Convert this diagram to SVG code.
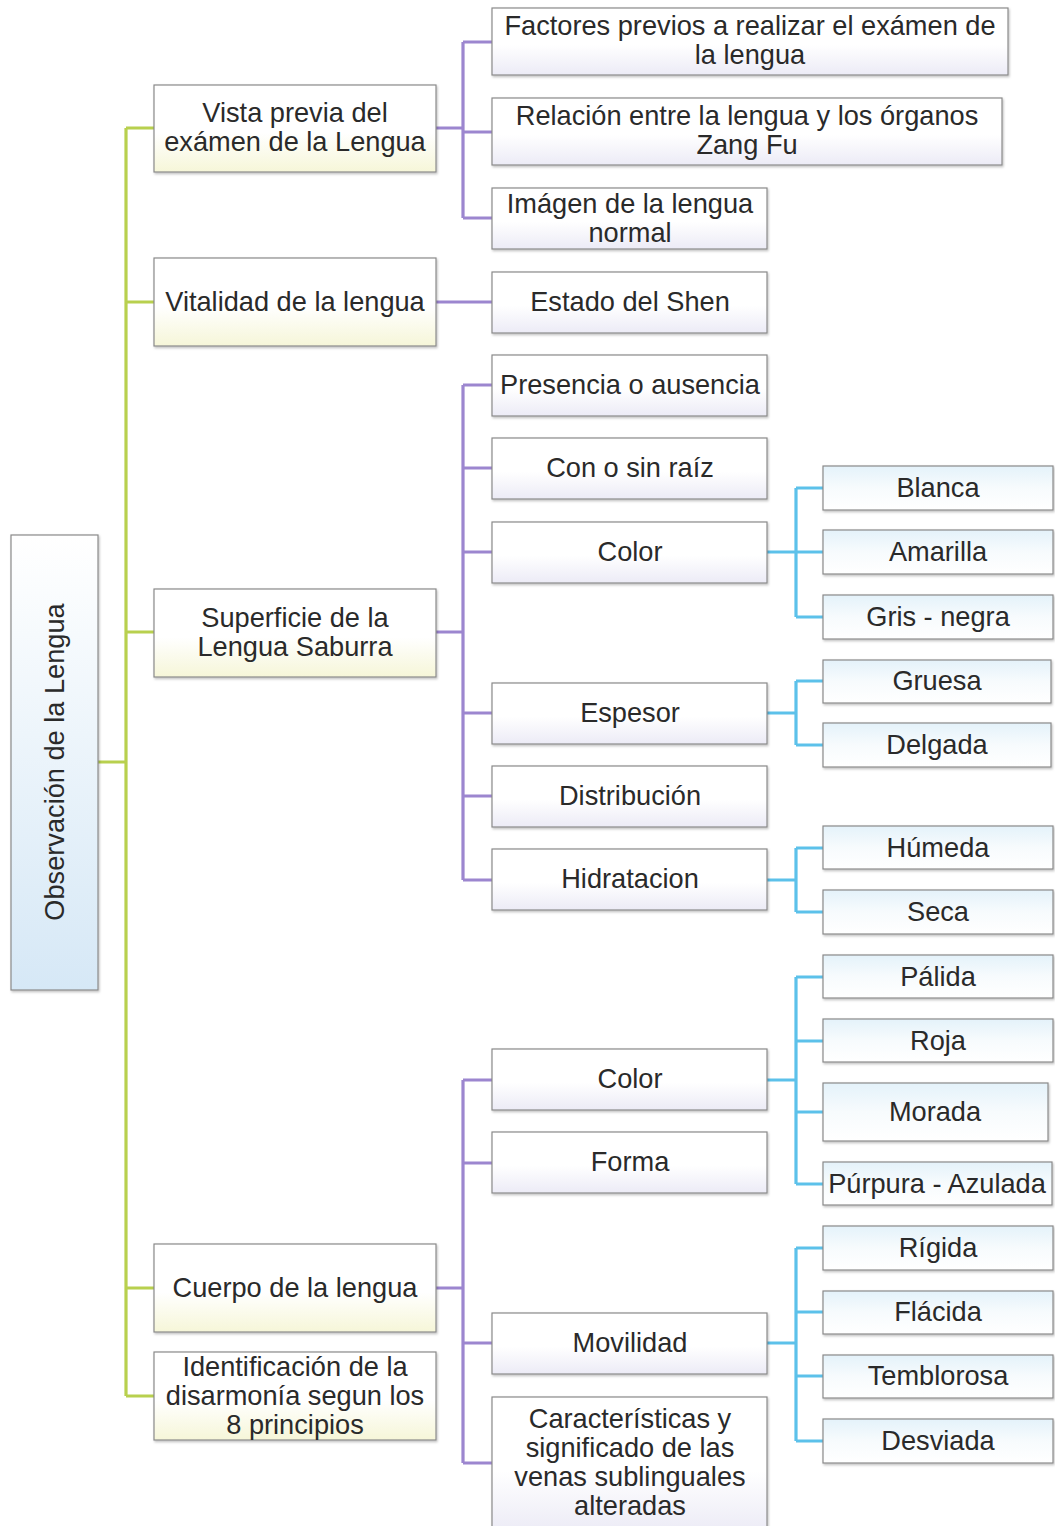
<svg xmlns="http://www.w3.org/2000/svg" width="1055" height="1526" viewBox="0 0 1055 1526">
<defs>
<linearGradient id="gRoot" x1="0" y1="0" x2="0" y2="1"><stop offset="0" stop-color="#ffffff"/><stop offset="1" stop-color="#d6e8f6"/></linearGradient>
<linearGradient id="gL1" x1="0" y1="0" x2="0" y2="1"><stop offset="0" stop-color="#ffffff"/><stop offset="0.55" stop-color="#ffffff"/><stop offset="1" stop-color="#f6f6d8"/></linearGradient>
<linearGradient id="gL2" x1="0" y1="0" x2="0" y2="1"><stop offset="0" stop-color="#ffffff"/><stop offset="0.55" stop-color="#ffffff"/><stop offset="1" stop-color="#ecebf6"/></linearGradient>
<linearGradient id="gL3" x1="0" y1="0" x2="0" y2="1"><stop offset="0" stop-color="#e4f2fa"/><stop offset="0.5" stop-color="#f7fbfd"/><stop offset="1" stop-color="#ffffff"/></linearGradient>
<filter id="sh" x="-5%" y="-5%" width="110%" height="120%"><feDropShadow dx="1" dy="1.5" stdDeviation="0.8" flood-color="#000" flood-opacity="0.25"/></filter>
</defs>
<style>
.root rect{fill:url(#gRoot);stroke:#8a8a8a;stroke-width:1.2;filter:url(#sh)}
.l1 rect{fill:url(#gL1);stroke:#8a8a8a;stroke-width:1.2;filter:url(#sh)}
.l2 rect{fill:url(#gL2);stroke:#8a8a8a;stroke-width:1.2;filter:url(#sh)}
.l3 rect{fill:url(#gL3);stroke:#8a8a8a;stroke-width:1.2;filter:url(#sh)}
text{font-family:"Liberation Sans",Arial,sans-serif;font-size:27.2px;fill:#2a2a2a;text-anchor:middle}
.g{stroke:#b8d04e;stroke-width:3.2;fill:none}
.p{stroke:#9c86cf;stroke-width:3.2;fill:none}
.b{stroke:#5cc1ea;stroke-width:3.2;fill:none}
</style>
<g id="connectors">
<path class="g" d="M98 762H126M126 128V1396M126 128H154M126 302H154M126 632H154M126 1288H154M126 1396H154"/>
<path class="p" d="M436 128H463M463 42V218M463 42H492M463 132H492M463 218H492"/>
<path class="p" d="M436 302H492"/>
<path class="p" d="M436 632H463M463 385V880M463 385H492M463 468H492M463 552H492M463 713H492M463 796H492M463 880H492"/>
<path class="p" d="M436 1288H463M463 1080V1463M463 1080H492M463 1163H492M463 1343H492M463 1463H492"/>
<path class="b" d="M767 552H796M796 488V617M796 488H823M796 552H823M796 617H823"/>
<path class="b" d="M767 713H796M796 681V745M796 681H823M796 745H823"/>
<path class="b" d="M767 880H796M796 848V912M796 848H823M796 912H823"/>
<path class="b" d="M767 1080H796M796 977V1184M796 977H823M796 1041H823M796 1112H823M796 1184H823"/>
<path class="b" d="M767 1343H796M796 1248V1441M796 1248H823M796 1312H823M796 1376H823M796 1441H823"/>
</g>
<g id="root" class="root"><rect x="11" y="535" width="87" height="455"/><text transform="translate(64 762) rotate(-90)">Observación de la Lengua</text></g>
<g id="vista" class="l1"><rect x="154" y="85" width="282" height="87"/><text x="295" y="122">Vista previa del</text><text x="295" y="151">exámen de la Lengua</text></g>
<g id="vitalidad" class="l1"><rect x="154" y="258" width="282" height="88"/><text x="295" y="311">Vitalidad de la lengua</text></g>
<g id="superficie" class="l1"><rect x="154" y="589" width="282" height="88"/><text x="295" y="627">Superficie de la</text><text x="295" y="656">Lengua Saburra</text></g>
<g id="cuerpo" class="l1"><rect x="154" y="1244" width="282" height="88"/><text x="295" y="1297">Cuerpo de la lengua</text></g>
<g id="identificacion" class="l1"><rect x="154" y="1352" width="282" height="88"/><text x="295" y="1376">Identificación de la</text><text x="295" y="1405">disarmonía segun los</text><text x="295" y="1434">8 principios</text></g>
<g id="factores" class="l2"><rect x="492" y="8" width="516" height="67"/><text x="750" y="35">Factores previos a realizar el exámen de</text><text x="750" y="64">la lengua</text></g>
<g id="relacion" class="l2"><rect x="492" y="98" width="510" height="67"/><text x="747" y="125">Relación entre la lengua y los órganos</text><text x="747" y="154">Zang Fu</text></g>
<g id="imagen" class="l2"><rect x="492" y="188" width="275" height="61"/><text x="630" y="213">Imágen de la lengua</text><text x="630" y="242">normal</text></g>
<g id="shen" class="l2"><rect x="492" y="272" width="275" height="61"/><text x="630" y="311">Estado del Shen</text></g>
<g id="presencia" class="l2"><rect x="492" y="355" width="275" height="61"/><text x="630" y="394">Presencia o ausencia</text></g>
<g id="raiz" class="l2"><rect x="492" y="438" width="275" height="61"/><text x="630" y="477">Con o sin raíz</text></g>
<g id="color1" class="l2"><rect x="492" y="522" width="275" height="61"/><text x="630" y="561">Color</text></g>
<g id="espesor" class="l2"><rect x="492" y="683" width="275" height="61"/><text x="630" y="722">Espesor</text></g>
<g id="distribucion" class="l2"><rect x="492" y="766" width="275" height="61"/><text x="630" y="805">Distribución</text></g>
<g id="hidratacion" class="l2"><rect x="492" y="849" width="275" height="61"/><text x="630" y="888">Hidratacion</text></g>
<g id="color2" class="l2"><rect x="492" y="1049" width="275" height="61"/><text x="630" y="1088">Color</text></g>
<g id="forma" class="l2"><rect x="492" y="1132" width="275" height="61"/><text x="630" y="1171">Forma</text></g>
<g id="movilidad" class="l2"><rect x="492" y="1313" width="275" height="61"/><text x="630" y="1352">Movilidad</text></g>
<g id="caracteristicas" class="l2"><rect x="492" y="1397" width="275" height="135"/><text x="630" y="1428">Características y</text><text x="630" y="1457">significado de las</text><text x="630" y="1486">venas sublinguales</text><text x="630" y="1515">alteradas</text></g>
<g id="blanca" class="l3"><rect x="823" y="466" width="230" height="44"/><text x="938" y="497">Blanca</text></g>
<g id="amarilla" class="l3"><rect x="823" y="530" width="230" height="44"/><text x="938" y="561">Amarilla</text></g>
<g id="gris" class="l3"><rect x="823" y="595" width="230" height="44"/><text x="938" y="626">Gris - negra</text></g>
<g id="gruesa" class="l3"><rect x="823" y="660" width="228" height="43"/><text x="937" y="690">Gruesa</text></g>
<g id="delgada" class="l3"><rect x="823" y="723" width="228" height="44"/><text x="937" y="754">Delgada</text></g>
<g id="humeda" class="l3"><rect x="823" y="826" width="230" height="43"/><text x="938" y="857">Húmeda</text></g>
<g id="seca" class="l3"><rect x="823" y="890" width="230" height="44"/><text x="938" y="921">Seca</text></g>
<g id="palida" class="l3"><rect x="823" y="955" width="230" height="43"/><text x="938" y="986">Pálida</text></g>
<g id="roja" class="l3"><rect x="823" y="1019" width="230" height="43"/><text x="938" y="1050">Roja</text></g>
<g id="morada" class="l3"><rect x="823" y="1083" width="225" height="58"/><text x="935" y="1121">Morada</text></g>
<g id="purpura" class="l3"><rect x="823" y="1162" width="229" height="43"/><text x="937" y="1193">Púrpura - Azulada</text></g>
<g id="rigida" class="l3"><rect x="823" y="1226" width="230" height="44"/><text x="938" y="1257">Rígida</text></g>
<g id="flacida" class="l3"><rect x="823" y="1291" width="230" height="43"/><text x="938" y="1321">Flácida</text></g>
<g id="temblorosa" class="l3"><rect x="823" y="1355" width="230" height="43"/><text x="938" y="1385">Temblorosa</text></g>
<g id="desviada" class="l3"><rect x="823" y="1419" width="230" height="44"/><text x="938" y="1450">Desviada</text></g>
</svg>
